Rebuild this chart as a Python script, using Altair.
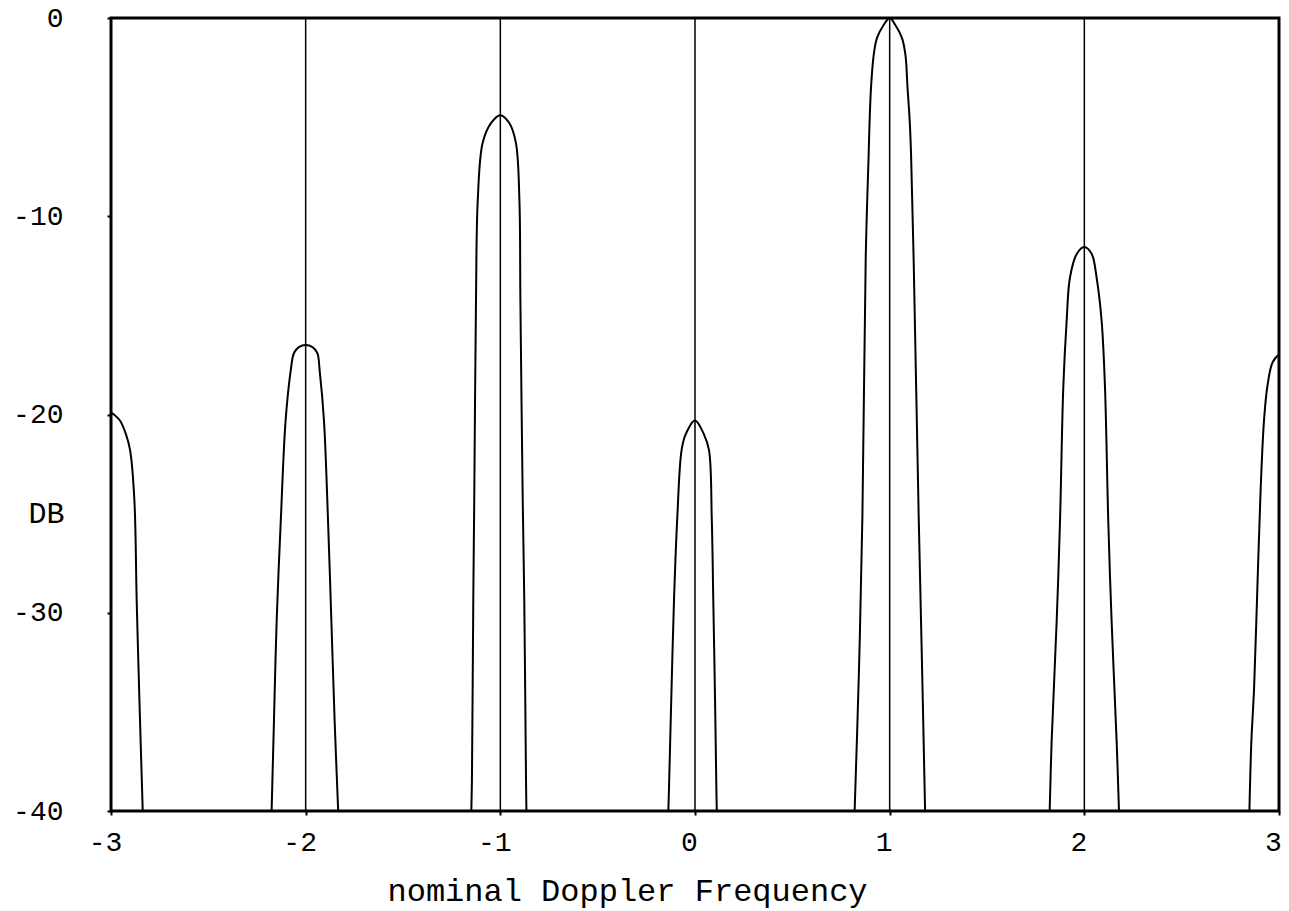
import altair as alt
import pandas as pd

# Main-lobe responses, one pair of arrays per lobe (frequency, level in dB)
lobe_m3_x = [-3.000, -2.985, -2.954, -2.923, -2.902, -2.880, -2.868, -2.854, -2.837]
lobe_m3_db = [-19.9, -20.0, -20.3, -21.0, -21.8, -24.3, -29.4, -34.4, -40.0]

lobe_m2_x = [-2.175, -2.163, -2.149, -2.128, -2.103, -2.077, -2.060, -2.035, -2.000,
             -1.965, -1.940, -1.928, -1.906, -1.885, -1.868, -1.851, -1.833]
lobe_m2_db = [-40.0, -35.5, -30.4, -25.4, -20.3, -17.8, -16.9, -16.6, -16.5,
              -16.6, -16.9, -17.8, -20.3, -25.4, -30.4, -35.5, -40.0]

lobe_m1_x = [-1.149, -1.146, -1.139, -1.134, -1.125, -1.116, -1.091, -1.048, -1.000,
             -0.954, -0.920, -0.902, -0.897, -0.885, -0.877, -0.868, -0.866]
lobe_m1_db = [-40.0, -38.5, -29.4, -24.3, -14.2, -9.2, -6.3, -5.3, -4.9,
              -5.3, -6.3, -9.2, -14.2, -24.3, -29.4, -38.5, -40.0]

lobe_0_x = [-0.137, -0.134, -0.122, -0.108, -0.091, -0.069, -0.048, 0.000,
            0.046, 0.072, 0.086, 0.094, 0.103, 0.110, 0.112]
lobe_0_db = [-40.0, -39.0, -34.4, -29.4, -25.2, -21.8, -21.0, -20.3,
             -21.0, -21.8, -25.2, -29.4, -34.4, -39.0, -40.0]

lobe_1_x = [0.820, 0.842, 0.860, 0.877, 0.892, 0.897, 0.904, 0.918, 0.935, 0.969, 1.000,
            1.029, 1.063, 1.081, 1.092, 1.103, 1.110, 1.123, 1.149, 1.167, 1.182]
lobe_1_db = [-40.0, -33.0, -25.1, -12.1, -6.9, -5.2, -3.55, -1.86, -1.0, -0.35, 0.0,
             -0.35, -1.0, -1.86, -3.55, -5.2, -6.9, -12.1, -25.1, -33.0, -40.0]

lobe_2_x = [1.822, 1.832, 1.858, 1.875, 1.892, 1.909, 1.926, 1.961, 2.000,
            2.038, 2.063, 2.089, 2.106, 2.123, 2.140, 2.166, 2.178]
lobe_2_db = [-40.0, -36.5, -30.4, -25.4, -18.6, -15.3, -13.1, -11.9, -11.55,
             -11.9, -13.1, -15.3, -18.6, -25.4, -30.4, -36.5, -40.0]

lobe_3_x = [2.848, 2.858, 2.872, 2.889, 2.906, 2.923, 2.940, 2.966, 2.997, 3.000]
lobe_3_db = [-40.0, -36.5, -33.8, -28.7, -23.7, -20.3, -18.6, -17.4, -17.0, -17.0]

# Vertical reference lines at the nominal Doppler frequencies
marker_x = [-2, -1, 0, 1, 2]

x_ticks = [-3, -2, -1, 0, 1, 2, 3]
y_ticks = [0, -10, -20, -30, -40]

lobes = [
    ("m3", lobe_m3_x, lobe_m3_db),
    ("m2", lobe_m2_x, lobe_m2_db),
    ("m1", lobe_m1_x, lobe_m1_db),
    ("0", lobe_0_x, lobe_0_db),
    ("1", lobe_1_x, lobe_1_db),
    ("2", lobe_2_x, lobe_2_db),
    ("3", lobe_3_x, lobe_3_db),
]
rows = []
for name, xs, dbs in lobes:
    for i, (xv, dv) in enumerate(zip(xs, dbs)):
        rows.append({"lobe": name, "idx": i, "x": xv, "db": dv})
df = pd.DataFrame(rows)

FONT = "Liberation Mono"
hyphen_labels = "datum.value < 0 ? '-' + abs(datum.value) : '' + datum.value"

x_enc = alt.X(
    "x:Q",
    scale=alt.Scale(domain=[-3, 3], nice=False, zero=False),
    axis=alt.Axis(
        values=x_ticks, labelExpr=hyphen_labels, title="nominal Doppler Frequency",
        domain=False, grid=False, tickSize=4, tickWidth=2, tickColor="black",
        labelPadding=13, labelFlush=False, labelOffset=-6,
        labelFontSize=28, labelFont=FONT, labelColor="black",
        titleFont=FONT, titleFontSize=32, titleFontWeight="normal", titleColor="black",
        titleAnchor="start", titleAlign="center", titleX=516, titleY=89,
        titleBaseline="alphabetic",
    ),
)
y_enc = alt.Y(
    "db:Q",
    scale=alt.Scale(domain=[-40, 0], nice=False),
    axis=alt.Axis(
        values=y_ticks, labelExpr=hyphen_labels, title="DB",
        domain=False, grid=False, tickSize=4, tickWidth=2, tickColor="black",
        labelPadding=44, labelFontSize=28, labelFont=FONT, labelColor="black",
        titleFont=FONT, titleFontSize=30, titleFontWeight="normal", titleColor="black",
        titleAngle=0, titleAlign="center", titleBaseline="middle",
        titleX=-65, titleY=495,
    ),
)

markers = alt.Chart(pd.DataFrame({"x": marker_x})).mark_rule(
    color="black", strokeWidth=1.5
).encode(x=alt.X("x:Q", scale=alt.Scale(domain=[-3, 3], nice=False, zero=False)))

curves = alt.Chart(df).mark_line(
    color="black", strokeWidth=2, interpolate="catmull-rom"
).encode(x=x_enc, y=y_enc, detail="lobe:N", order="idx:Q")

chart = (
    alt.layer(markers, curves)
    .properties(
        width=1168,
        height=793,
        padding={"left": 111, "top": 18, "right": 10, "bottom": 100},
        autosize=alt.AutoSizeParams(type="none"),
        background="white",
    )
    .configure_view(stroke="black", strokeWidth=3)
)

chart.save("out.html", embed_options={"renderer": "svg", "actions": False})
